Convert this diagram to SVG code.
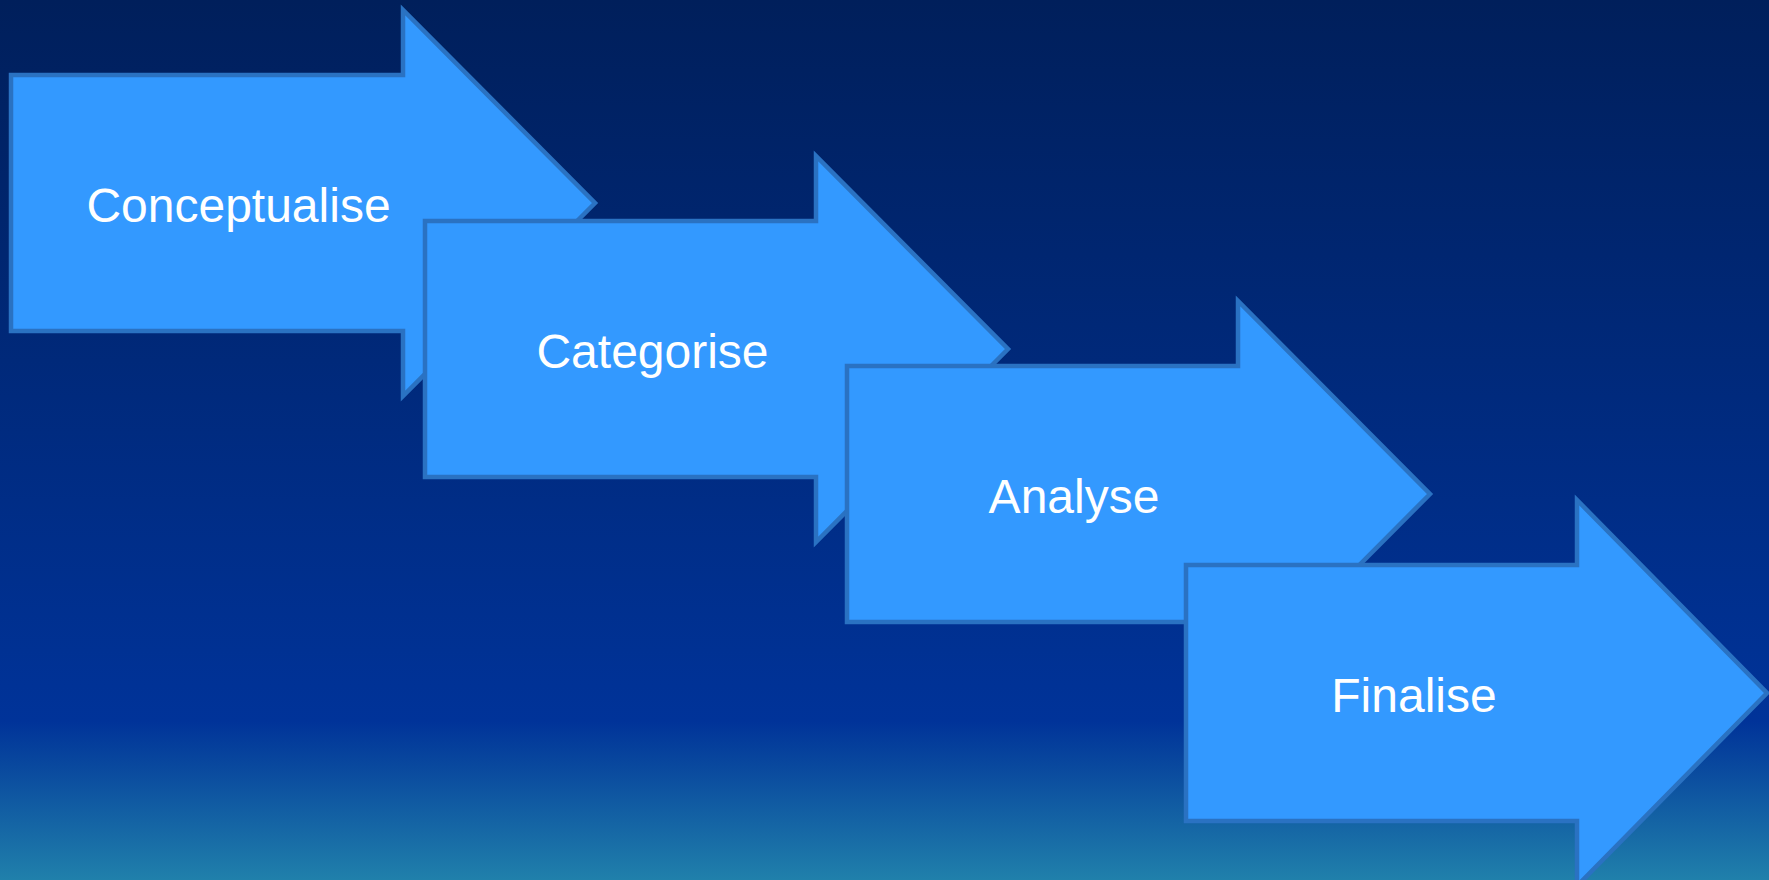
<svg xmlns="http://www.w3.org/2000/svg" width="1769" height="880" viewBox="0 0 1769 880">
<defs>
<linearGradient id="bg" x1="0" y1="0" x2="0" y2="1">
<stop offset="0" stop-color="#001f5b"/>
<stop offset="0.82" stop-color="#003399"/>
<stop offset="1" stop-color="#2080ab"/>
</linearGradient>
</defs>
<style>
.arrow{fill:#3399ff;stroke:#2a72c2;stroke-width:4.5;stroke-linejoin:miter}
.lbl{font-family:"Liberation Sans",Arial,sans-serif;font-size:48px;fill:#ffffff;text-anchor:middle}
</style>
<rect x="0" y="0" width="1769" height="880" fill="url(#bg)"/>
<g id="connectors"></g>
<g id="node-conceptualise">
<polygon class="arrow" points="11,75 403,75 403,10 595,203 403,396 403,331 11,331"/>
<text class="lbl" x="238.5" y="222">Conceptualise</text>
</g>
<g id="node-categorise">
<polygon class="arrow" points="425,221 816,221 816,156 1008,349 816,542 816,477 425,477"/>
<text class="lbl" x="652.5" y="368">Categorise</text>
</g>
<g id="node-analyse">
<polygon class="arrow" points="847,366 1238,366 1238,301 1430,494 1238,687 1238,622 847,622"/>
<text class="lbl" x="1074" y="513">Analyse</text>
</g>
<g id="node-finalise">
<polygon class="arrow" points="1186,565 1577,565 1577,500 1767,693 1577,886 1577,821 1186,821"/>
<text class="lbl" x="1414" y="712">Finalise</text>
</g>
</svg>
